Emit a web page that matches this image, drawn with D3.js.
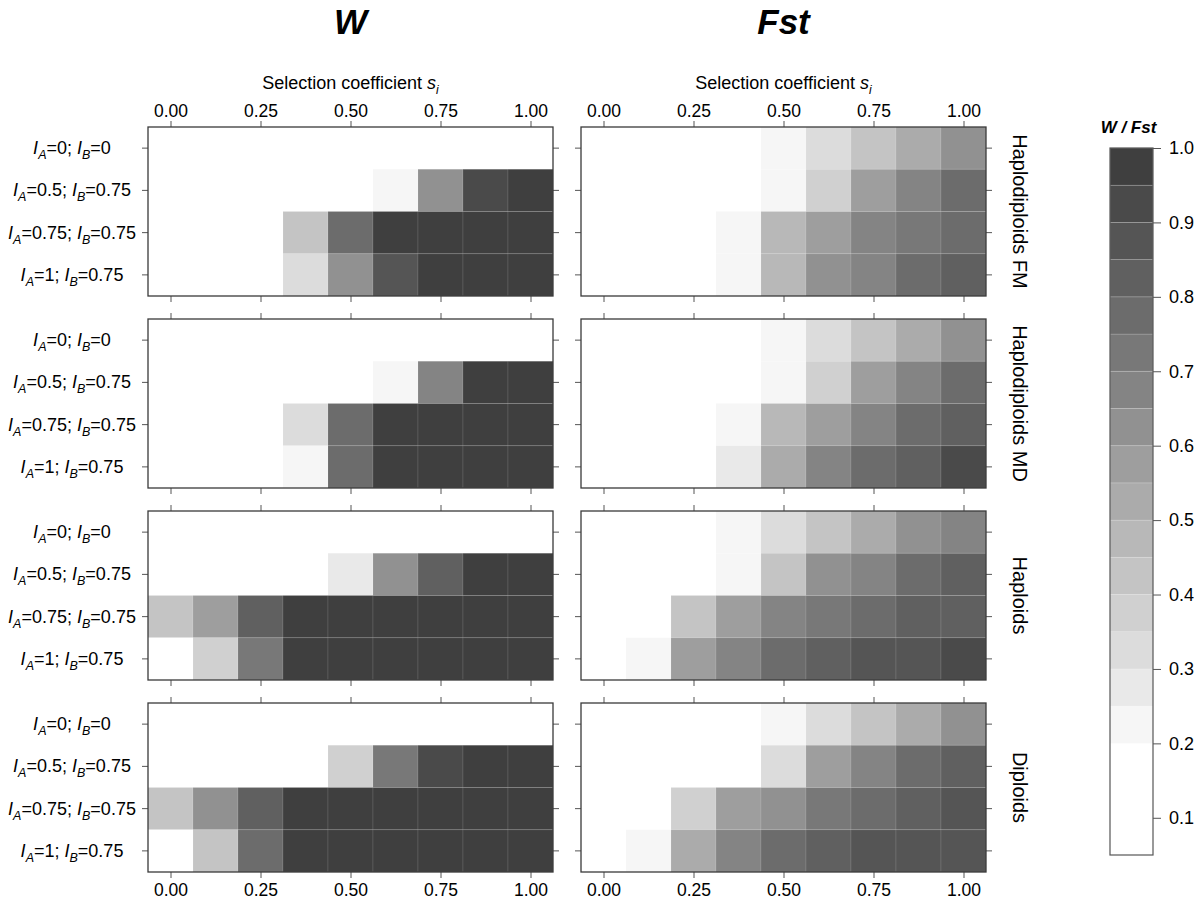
<!DOCTYPE html>
<html>
<head>
<meta charset="utf-8">
<script src="https://cdn.jsdelivr.net/npm/d3@7"></script>
<style>
  body { margin: 0; background: #fff; }
  svg { display: block; font-family: "Liberation Sans", Arial, sans-serif; }
</style>
</head>
<body>
<div id="container"></div>
<script>
const sValues = [0, 0.125, 0.25, 0.375, 0.5, 0.625, 0.75, 0.875, 1];
const xTicks = [0, 0.25, 0.5, 0.75, 1];
const rowIA = ["0", "0.5", "0.75", "1"];
const rowIB = ["0", "0.75", "0.75", "0.75"];
const groups = ["Haplodiploids FM", "Haplodiploids MD", "Haploids", "Diploids"];
const measures = ["W", "Fst"];
const legendBreaks = [0.05, 0.1, 0.15, 0.2, 0.25, 0.3, 0.35, 0.4, 0.45, 0.5,
  0.55, 0.6, 0.65, 0.7, 0.75, 0.8, 0.85, 0.9, 0.95, 1.0];
const legendTicks = [0.1, 0.2, 0.3, 0.4, 0.5, 0.6, 0.7, 0.8, 0.9, 1.0];
const grays = ["#ffffff", "#ffffff", "#ffffff", "#f6f6f6", "#e9e9e9", "#dcdcdc",
  "#d0d0d0", "#c4c4c4", "#b8b8b8", "#ababab", "#9e9e9e", "#919191", "#848484",
  "#787878", "#6c6c6c", "#606060", "#555555", "#4a4a4a", "#3f3f3f"];

// rows top to bottom (I_A=0;I_B=0 ... I_A=1;I_B=0.75), columns s = 0 ... 1
const wHaplodiploidsFM = [
  [0, 0, 0, 0, 0, 0, 0, 0, 0],
  [0, 0, 0, 0, 0, 0.22, 0.63, 0.92, 0.97],
  [0, 0, 0, 0.42, 0.77, 0.97, 0.97, 0.97, 0.97],
  [0, 0, 0, 0.32, 0.63, 0.87, 0.97, 0.97, 0.97]
];
const wHaplodiploidsMD = [
  [0, 0, 0, 0, 0, 0, 0, 0, 0],
  [0, 0, 0, 0, 0, 0.22, 0.67, 0.97, 0.97],
  [0, 0, 0, 0.32, 0.78, 0.97, 0.97, 0.97, 0.97],
  [0, 0, 0, 0.22, 0.77, 0.97, 0.97, 0.97, 0.97]
];
const wHaploids = [
  [0, 0, 0, 0, 0, 0, 0, 0, 0],
  [0, 0, 0, 0, 0.27, 0.62, 0.82, 0.97, 0.97],
  [0.42, 0.57, 0.82, 0.97, 0.97, 0.97, 0.97, 0.97, 0.97],
  [0, 0.37, 0.72, 0.97, 0.97, 0.97, 0.97, 0.97, 0.97]
];
const wDiploids = [
  [0, 0, 0, 0, 0, 0, 0, 0, 0],
  [0, 0, 0, 0, 0.37, 0.72, 0.92, 0.97, 0.97],
  [0.42, 0.62, 0.82, 0.97, 0.97, 0.97, 0.97, 0.97, 0.97],
  [0, 0.42, 0.77, 0.97, 0.97, 0.97, 0.97, 0.97, 0.97]
];
const fstHaplodiploidsFM = [
  [0, 0, 0, 0, 0.22, 0.32, 0.42, 0.52, 0.62],
  [0, 0, 0, 0, 0.24, 0.37, 0.57, 0.67, 0.77],
  [0, 0, 0, 0.24, 0.47, 0.57, 0.67, 0.72, 0.77],
  [0, 0, 0, 0.24, 0.49, 0.62, 0.68, 0.77, 0.82]
];
const fstHaplodiploidsMD = [
  [0, 0, 0, 0, 0.22, 0.32, 0.42, 0.5, 0.6],
  [0, 0, 0, 0, 0.22, 0.37, 0.57, 0.67, 0.77],
  [0, 0, 0, 0.22, 0.45, 0.55, 0.65, 0.75, 0.82],
  [0, 0, 0, 0.27, 0.52, 0.67, 0.75, 0.82, 0.9]
];
const fstHaploids = [
  [0, 0, 0, 0.22, 0.32, 0.42, 0.52, 0.62, 0.67],
  [0, 0, 0, 0.24, 0.4, 0.6, 0.68, 0.77, 0.82],
  [0, 0, 0.42, 0.57, 0.66, 0.72, 0.77, 0.82, 0.83],
  [0, 0.22, 0.55, 0.68, 0.77, 0.82, 0.85, 0.87, 0.92]
];
const fstDiploids = [
  [0, 0, 0, 0, 0.22, 0.3, 0.42, 0.5, 0.6],
  [0, 0, 0, 0, 0.32, 0.57, 0.66, 0.75, 0.82],
  [0, 0, 0.37, 0.56, 0.64, 0.72, 0.76, 0.8, 0.85],
  [0, 0.24, 0.53, 0.68, 0.77, 0.82, 0.85, 0.88, 0.85]
];

const panelValues = {
  W: [wHaplodiploidsFM, wHaplodiploidsMD, wHaploids, wDiploids],
  Fst: [fstHaplodiploidsFM, fstHaplodiploidsMD, fstHaploids, fstDiploids]
};

const width = 1200, height = 901;
const panelW = 405, panelH = 169;
const colX = [148, 581];
const rowTop = 127, rowStep = 192;
const tickFont = "17.5px";

const svg = d3.select("#container")
  .append("svg")
  .attr("width", width)
  .attr("height", height);

const color = d3.scaleThreshold()
  .domain(legendBreaks.slice(1, -1))
  .range(grays);

const x = d3.scaleLinear().domain([-0.0625, 1.0625]).range([0, panelW]);
const cellW = x(0.125) - x(0);
const y = d3.scaleBand().domain(d3.range(rowIA.length)).range([0, panelH]);

// column titles
measures.forEach((m, mi) => {
  svg.append("text")
    .attr("x", colX[mi] + panelW / 2)
    .attr("y", 34)
    .attr("text-anchor", "middle")
    .style("font-size", "35px")
    .style("font-weight", "bold")
    .style("font-style", "italic")
    .text(m);

  const xl = svg.append("text")
    .attr("x", colX[mi] + panelW / 2)
    .attr("y", 89)
    .attr("text-anchor", "middle")
    .style("font-size", "18px");
  xl.append("tspan").text("Selection coefficient ");
  xl.append("tspan").style("font-style", "italic").text("s");
  xl.append("tspan").style("font-style", "italic").style("font-size", "12px")
    .attr("dy", 5).text("i");
});

function styleAxis(g) {
  g.select(".domain").remove();
  g.selectAll(".tick line").attr("stroke", "#555");
  g.selectAll(".tick text")
    .attr("fill", "#000")
    .style("font-size", tickFont)
    .style("font-family", "'Liberation Sans', Arial, sans-serif");
}

groups.forEach((grp, gi) => {
  const top = rowTop + gi * rowStep;

  measures.forEach((m, mi) => {
    const values = panelValues[m][gi];
    const panel = svg.append("g")
      .attr("transform", `translate(${colX[mi]},${top})`);

    const cells = [];
    values.forEach((row, r) => row.forEach((v, c) => cells.push({ r, c, v })));

    panel.selectAll("rect.cell")
      .data(cells)
      .enter()
      .append("rect")
      .attr("class", "cell")
      .attr("x", d => x(sValues[d.c]) - cellW / 2)
      .attr("y", d => y(d.r))
      .attr("width", cellW)
      .attr("height", y.bandwidth())
      .attr("fill", d => color(d.v))
      .attr("stroke", "#ffffff")
      .attr("stroke-opacity", 0.1)
      .attr("stroke-width", 1);

    panel.append("g")
      .call(d3.axisTop(x).tickValues(xTicks).tickSize(6).tickPadding(4)
        .tickFormat(gi === 0 ? d3.format(".2f") : ""))
      .call(styleAxis);

    panel.append("g")
      .attr("transform", `translate(0,${panelH})`)
      .call(d3.axisBottom(x).tickValues(xTicks).tickSize(6).tickPadding(6)
        .tickFormat(gi === groups.length - 1 ? d3.format(".2f") : ""))
      .call(styleAxis);

    panel.append("g")
      .call(d3.axisLeft(y).tickSize(6).tickFormat(""))
      .call(styleAxis);

    panel.append("g")
      .attr("transform", `translate(${panelW},0)`)
      .call(d3.axisRight(y).tickSize(6).tickFormat(""))
      .call(styleAxis);

    panel.append("rect")
      .attr("width", panelW)
      .attr("height", panelH)
      .attr("fill", "none")
      .attr("stroke", "#3a3a3a")
      .attr("stroke-width", 1.3);

    if (mi === 0) {
      const labels = svg.append("g")
        .attr("transform", `translate(72,${top})`)
        .selectAll("text")
        .data(d3.range(rowIA.length))
        .enter()
        .append("text")
        .attr("x", 0)
        .attr("y", r => y(r) + y.bandwidth() / 2 + 6)
        .attr("text-anchor", "middle")
        .style("font-size", "18px");
      labels.each(function (r) {
        const t = d3.select(this);
        t.append("tspan").style("font-style", "italic").text("I");
        t.append("tspan").style("font-style", "italic").style("font-size", "12.5px")
          .attr("dy", 5).text("A");
        t.append("tspan").attr("dy", -5).text("=" + rowIA[r] + "; ");
        t.append("tspan").style("font-style", "italic").text("I");
        t.append("tspan").style("font-style", "italic").style("font-size", "12.5px")
          .attr("dy", 5).text("B");
        t.append("tspan").attr("dy", -5).text("=" + rowIB[r]);
      });
    }
  });

  const cy = top + panelH / 2;
  svg.append("text")
    .attr("x", 1020)
    .attr("y", cy)
    .attr("transform", `rotate(90,1020,${cy})`)
    .attr("text-anchor", "middle")
    .attr("dominant-baseline", "central")
    .style("font-size", "20px")
    .text(grp);
});

// colour key
const keyX = 1110, keyW = 43;
const yKey = d3.scaleLinear().domain([0.05, 1]).range([855, 148]);
const key = svg.append("g").attr("transform", `translate(${keyX},0)`);

key.selectAll("rect.block")
  .data(d3.pairs(legendBreaks))
  .enter()
  .append("rect")
  .attr("class", "block")
  .attr("x", 0)
  .attr("width", keyW)
  .attr("y", d => yKey(d[1]))
  .attr("height", d => yKey(d[0]) - yKey(d[1]))
  .attr("fill", d => color((d[0] + d[1]) / 2))
  .attr("stroke", "#ffffff")
  .attr("stroke-opacity", 0.2)
  .attr("stroke-width", 0.8);

key.append("rect")
  .attr("y", yKey(1))
  .attr("width", keyW)
  .attr("height", yKey(0.05) - yKey(1))
  .attr("fill", "none")
  .attr("stroke", "#555")
  .attr("stroke-width", 1.2);

key.append("g")
  .attr("transform", `translate(${keyW},0)`)
  .call(d3.axisRight(yKey).tickValues(legendTicks).tickSize(8).tickPadding(8)
    .tickFormat(d3.format(".1f")))
  .call(styleAxis)
  .selectAll(".tick text").style("font-size", "18px");

svg.append("text")
  .attr("x", keyX + keyW / 2 - 3)
  .attr("y", 133)
  .attr("text-anchor", "middle")
  .style("font-size", "17px")
  .style("font-weight", "bold")
  .style("font-style", "italic")
  .text("W / Fst");
</script>
</body>
</html>
